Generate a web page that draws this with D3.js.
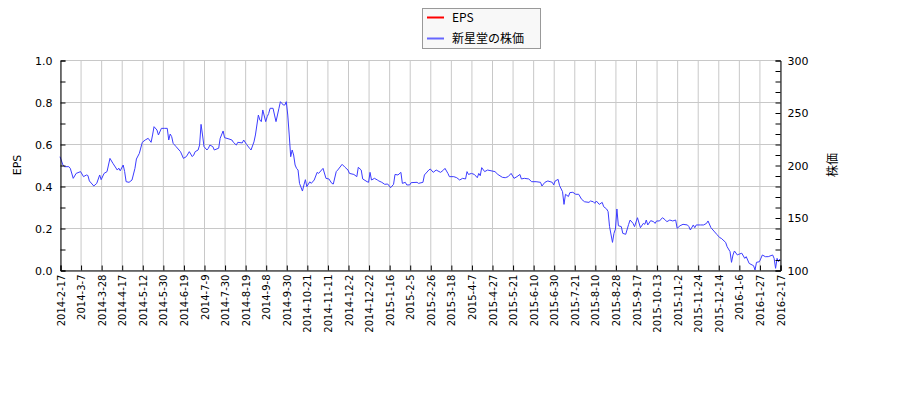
<!DOCTYPE html>
<html><head><meta charset="utf-8">
<script src="https://cdn.jsdelivr.net/npm/d3@7"></script>
<style>body{margin:0;background:#fff}</style>
</head><body>
<svg id="c" width="900" height="400"></svg>
<script>
// tick labels (one every 14 trading days)
const tickLabels = ["2014-2-17","2014-3-7","2014-3-28","2014-4-17","2014-5-12","2014-5-30","2014-6-19","2014-7-9","2014-7-30","2014-8-19","2014-9-8","2014-9-30","2014-10-21","2014-11-11","2014-12-2","2014-12-22","2015-1-16","2015-2-5","2015-2-26","2015-3-18","2015-4-7","2015-4-27","2015-5-21","2015-6-10","2015-6-30","2015-7-21","2015-8-10","2015-8-28","2015-9-17","2015-10-13","2015-11-2","2015-11-24","2015-12-14","2016-1-6","2016-1-27","2016-2-17"];
const tickStep = 14;
// trading-day index of each price reading
const days = [0,2,3,6,7,9,11,14,16,18,19,20,23,25,27,28,30,32,34,36,39,40,41,43,44,45,47,49,51,52,54,56,58,60,62,63,64,66,67,69,71,73,74,75,76,77,79,82,84,86,88,90,91,92,94,95,96,97,98,100,101,102,104,105,108,109,111,112,115,117,118,120,121,124,125,127,129,130,132,133,135,136,137,138,140,141,142,143,145,146,147,149,150,152,153,154,155,156,157,158,159,160,161,162,163,165,166,167,168,170,171,173,175,176,179,181,183,185,186,188,189,192,194,196,197,200,202,203,205,206,209,210,211,212,214,216,217,219,221,223,225,227,228,230,232,233,235,236,238,239,243,244,247,248,251,252,254,256,259,261,262,264,265,268,270,272,274,276,277,278,280,282,284,285,286,287,289,291,294,296,298,301,303,305,307,309,311,313,314,316,319,321,324,327,328,330,332,335,336,337,339,340,342,343,344,346,347,349,351,353,355,357,360,361,363,364,365,367,369,370,372,373,374,376,377,378,379,380,382,383,385,387,388,390,391,393,395,397,398,399,400,402,404,405,406,408,410,412,413,415,417,419,420,422,424,427,428,429,431,432,433,436,438,440,441,443,445,447,449,450,453,454,456,457,458,459,461,462,464,466,467,469,471,472,473,474,476,478,480,482,485,486,487,488,489,490];
// 新星堂の株価 (yen)
const prices = [207.9,200,198.4,198.4,196.8,187.3,192,193.7,188.9,190.5,190,184.8,180,182.5,190.5,186,192,193.7,206.3,201.6,195.2,197,194.5,200,193.7,184.1,183.5,185.7,196.8,205.7,211.1,221.6,223.8,225.4,221.6,228.6,236.5,233.3,228.6,234.9,234.9,234.9,223.8,229.5,227,220.6,217.5,212.7,206.3,208,212.7,208,209.5,212.7,214.3,219,238.7,228.6,217.5,214.3,216,219,217.5,214.3,216,225.4,232.4,226,224.8,223.8,221.6,219,221.6,221,223.8,219.5,215.9,214.3,222,228.6,247.6,242.9,241.3,252.4,241.3,246,249,254,254,247.6,241.3,254,260.3,257.1,257.1,260.3,247.6,228.6,207.9,214.3,209.5,200,196.8,195.2,182.5,175.2,181,186,179.4,184,182.5,185.7,193,192,196.8,187.3,186.7,182.5,181.9,193.7,195.2,200.6,197.8,195.2,192,191,188.9,197.8,195.2,186.7,184.1,183.5,193,185.7,187.3,185.7,184.8,183.5,181.6,181.9,178.4,181.6,191,190.5,193,182.5,183.5,181,181,183.2,183.5,182.5,183.5,190.5,195.2,196.2,193,195.2,193,195.2,196.8,192,188.9,188.9,187.9,185.7,187.3,186.7,193.7,191,192,191,187.9,192,189.8,197.5,193.7,195.2,194.3,193.7,191,188.3,187.9,188.9,192,187.3,188.9,191,186.7,187.3,186.7,184.1,184.1,183.5,180,183.5,184.8,183.5,181,184.8,186.3,180.3,174.6,162.5,172.1,170,173.7,174,172.1,172.1,167.3,165,164.4,165.7,165,163.5,165.7,162.5,164.4,160.3,158.1,155.6,141.3,126.3,134.9,139,158.1,142.2,141.3,134.9,134,143.5,147.6,144.4,141.3,149.8,140.3,144.4,143.5,147.6,142.9,147,146,144.4,146.7,146.7,149.8,147.6,146,147.6,146.7,147.6,139.7,142.2,143.5,142.9,141.3,138.1,142.9,140.3,142.9,142.9,142.9,144.4,146.7,140.3,137.1,133.9,130.8,130.2,126.3,122.2,117.5,107.3,114.3,118.1,114.3,115,116,111.1,112.7,106.3,104.8,104.1,100,107.3,107.9,114.3,112.7,112.7,114.3,111.1,101.6,111.1,107.9,110.5];
const eps = []; // no EPS values plotted
const leftTicks = [0,0.2,0.4,0.6,0.8,1.0];
const rightTicks = [100,150,200,250,300];

const svg = d3.select("#c");
const L = 60, R = 780, T = 60, B = 270;
const nDays = (tickLabels.length - 1) * tickStep;
const x = d3.scaleLinear().domain([0, nDays]).range([L, R]);
const yL = d3.scaleLinear().domain([0, 1]).range([B, T]);
const yR = d3.scaleLinear().domain([100, 300]).range([B, T]);
const grid = "#c8c8c8";
const numFont = "DejaVu Sans, sans-serif";

// grid
const tickIdx = tickLabels.map((d, i) => i * tickStep);
svg.append("g").selectAll("line").data(tickIdx).join("line")
  .attr("x1", d => x(d) + 0.5).attr("x2", d => x(d) + 0.5)
  .attr("y1", T).attr("y2", B).attr("stroke", grid).attr("stroke-width", 1);
svg.append("g").selectAll("line").data(leftTicks).join("line")
  .attr("x1", L).attr("x2", R)
  .attr("y1", d => Math.round(yL(d)) + 0.5).attr("y2", d => Math.round(yL(d)) + 0.5)
  .attr("stroke", grid).attr("stroke-width", 1);

// price line
const line = d3.line().x((d, i) => x(days[i])).y(d => yR(d));
svg.append("path").datum(prices).attr("d", line)
  .attr("fill", "none").attr("stroke", "#3c3cff").attr("stroke-width", 1);

// axes
const axL = d3.axisLeft(yL).tickValues(d3.range(0, 1.0001, 0.1)).tickSize(-5)
  .tickFormat(d => leftTicks.some(t => Math.abs(t - d) < 1e-9) ? d.toFixed(1) : "");
const gL = svg.append("g").attr("transform", `translate(${L + 0.5},0.5)`).call(axL);
const axR = d3.axisRight(yR).tickValues(d3.range(100, 301, 10)).tickSize(-5)
  .tickFormat(d => rightTicks.includes(d) ? d : "");
const gR = svg.append("g").attr("transform", `translate(${R + 0.5},0.5)`).call(axR);
const axB = d3.axisBottom(x).tickValues(tickIdx).tickSize(-5)
  .tickFormat((d, i) => tickLabels[i]);
const gB = svg.append("g").attr("transform", `translate(0.5,${B + 0.5})`).call(axB);
[gL, gR, gB].forEach(g => {
  g.select(".domain").attr("stroke", "#000");
  g.selectAll(".tick line").attr("stroke", "#000");
  g.selectAll("text").attr("fill", "#000").style("font-family", numFont);
});
gL.selectAll("text").attr("x", -8).style("font-size", "11px");
gR.selectAll("text").attr("x", 7).style("font-size", "11px");
gB.selectAll("text").style("font-size", "10px")
  .attr("transform", "rotate(-90)").attr("text-anchor", "end")
  .attr("x", -4).attr("y", 0).attr("dy", "0.35em");

// axis titles
svg.append("text").attr("transform", `translate(21,165) rotate(-90)`)
  .attr("text-anchor", "middle").style("font-family", numFont).style("font-size", "11px").text("EPS");
svg.append("text").attr("transform", `translate(837,165) rotate(-90)`)
  .attr("text-anchor", "middle").style("font-family", "Noto Sans CJK JP, sans-serif").style("font-size", "12px").text("株価");

// legend
const lg = svg.append("g");
lg.append("rect").attr("x", 422.5).attr("y", 8.5).attr("width", 118).attr("height", 40)
  .attr("fill", "#f8f8f8").attr("stroke", "#999");
const series = [{name: "EPS", color: "#ff0000"}, {name: "新星堂の株価", color: "#6666ff"}];
series.forEach((s, i) => {
  const yy = 17.5 + i * 21;
  lg.append("line").attr("x1", 427).attr("x2", 444).attr("y1", yy).attr("y2", yy)
    .attr("stroke", s.color).attr("stroke-width", 2);
  lg.append("text").attr("x", 452).attr("y", yy).attr("dy", "0.36em")
    .style("font-family", "Noto Sans CJK JP, sans-serif").style("font-size", "12px").text(s.name);
});
</script>
</body></html>
